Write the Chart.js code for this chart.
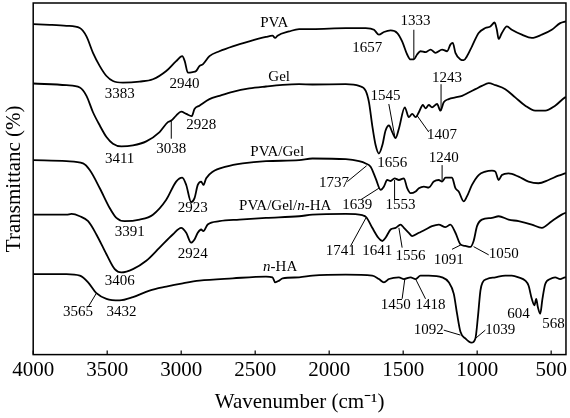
<!DOCTYPE html>
<html>
<head>
<meta charset="utf-8">
<script src="https://cdn.jsdelivr.net/npm/chart.js@4.4.0/dist/chart.umd.min.js"></script>
<style>
  html, body { margin: 0; padding: 0; background: #fff; }
</style>
</head>
<body>
<canvas id="ftir" width="570" height="418"></canvas>
<script>
// wavenumber ticks on the bottom axis
const xTicks = [4000, 3500, 3000, 2500, 2000, 1500, 1000, 500];

// spectra, stacked with an offset (arbitrary transmittance units)
const pvaWn = [4000, 3888, 3775, 3685, 3640, 3596, 3550, 3505, 3461, 3394, 3281, 3191, 3101, 3034, 2993, 2976, 2955, 2922, 2899, 2877, 2854, 2809, 2742, 2652, 2540, 2427, 2383, 2365, 2349, 2270, 2203, 2113, 1888, 1753, 1697, 1664, 1630, 1585, 1540, 1507, 1473, 1450, 1428, 1406, 1383, 1349, 1315, 1282, 1237, 1203, 1181, 1165, 1147, 1113, 1091, 1069, 1035, 990, 945, 911, 882, 867, 855, 833, 799, 766, 698, 631, 563, 496, 439, 406, 400];
const pvaT = [333.7, 333, 332, 329.7, 321.3, 304.7, 291.3, 281.3, 276.3, 274.7, 275.7, 278, 286.3, 296.3, 301.3, 296.3, 284.7, 285.3, 286.3, 291.3, 293, 301.3, 306.3, 311.3, 316.3, 320.7, 322, 319.7, 322, 326.3, 328.7, 328.7, 329.7, 329.7, 328, 323, 325.7, 327.3, 324.7, 316.3, 303, 298, 298, 303, 306.3, 305.3, 308, 304.7, 308, 306.3, 313, 314.7, 304.7, 298, 297.3, 301.3, 311.3, 324.7, 329.7, 331.3, 335.3, 328, 318.7, 324.7, 331.3, 328, 323, 319.7, 323, 328, 334.7, 336.3, 336.5];

const gelWn = [4000, 3775, 3685, 3640, 3596, 3550, 3505, 3461, 3404, 3326, 3236, 3146, 3090, 3067, 3034, 3000, 2966, 2929, 2910, 2877, 2809, 2742, 2652, 2540, 2427, 2315, 2203, 2113, 1888, 1798, 1753, 1731, 1709, 1686, 1664, 1641, 1619, 1596, 1574, 1551, 1529, 1489, 1462, 1439, 1416, 1394, 1367, 1349, 1327, 1305, 1271, 1248, 1226, 1192, 1147, 1102, 1057, 1012, 968, 922, 877, 810, 743, 675, 608, 540, 473, 406, 400];
const gelT = [273.7, 272, 269.7, 261.3, 244.7, 231.3, 219.7, 213, 210.3, 211.3, 215.3, 224.7, 234.7, 236.3, 241.3, 245.3, 243, 240.7, 248, 251.3, 258, 261.3, 265.3, 268.7, 270.7, 272.3, 273, 272.7, 273, 271.3, 266.3, 254.7, 231.3, 211.3, 203, 211.3, 226.3, 231.3, 224.7, 218.7, 228, 249.7, 239.7, 243, 239.7, 244.7, 252, 248.7, 252, 249.7, 253, 246.3, 254.7, 258, 259.7, 261.3, 264.7, 268, 271.3, 274, 272, 268, 259.7, 251.3, 246.3, 246.3, 251.3, 259.7, 260];

const pvaGelWn = [4000, 3775, 3663, 3618, 3550, 3483, 3438, 3382, 3281, 3191, 3101, 3034, 2993, 2966, 2933, 2910, 2888, 2865, 2850, 2831, 2787, 2697, 2585, 2427, 2203, 2113, 1888, 1798, 1753, 1720, 1686, 1652, 1630, 1608, 1585, 1558, 1529, 1495, 1473, 1450, 1416, 1394, 1360, 1327, 1293, 1260, 1237, 1214, 1170, 1147, 1125, 1091, 1069, 1035, 990, 945, 900, 877, 855, 833, 788, 720, 653, 586, 518, 451, 406, 400];
const pvaGelT = [196.3, 195.3, 193, 186.3, 168, 148, 138, 134.7, 136.3, 141.3, 156.3, 174.7, 178.7, 171.3, 154, 158, 171.3, 174.7, 171.3, 178, 184.7, 189.7, 193, 195.3, 196.3, 198, 197.3, 195.3, 193, 189.7, 178, 166.3, 169.7, 176.3, 175.3, 178, 176.3, 178, 168, 163, 164.7, 168, 169.7, 168.7, 174.7, 176.3, 174.7, 178.7, 178.7, 168, 164.7, 154.7, 159.7, 171.3, 181.3, 184.7, 185.7, 184.7, 176.3, 181.3, 183, 179.7, 174.7, 173, 176.3, 180.7, 183, 183.3];

const compositeWn = [4000, 3775, 3741, 3685, 3629, 3573, 3505, 3449, 3404, 3326, 3236, 3146, 3057, 3000, 2966, 2933, 2910, 2888, 2865, 2850, 2821, 2742, 2607, 2427, 2203, 2113, 1888, 1776, 1749, 1709, 1668, 1641, 1619, 1585, 1551, 1518, 1495, 1462, 1439, 1394, 1349, 1305, 1260, 1214, 1181, 1147, 1113, 1080, 1046, 1024, 1001, 968, 900, 855, 788, 720, 631, 563, 496, 429, 406, 400];
const compositeT = [141.3, 141.3, 142, 139.7, 134.7, 121.3, 101.3, 86.3, 83, 86.3, 94.7, 108, 121.3, 128, 123, 113, 116.3, 123, 126.3, 124.7, 131.3, 134.7, 136.3, 138, 139.7, 141.3, 142, 140.7, 138.7, 128, 118, 114.7, 118, 126.3, 128, 131.3, 128, 123, 119.7, 123, 126.3, 129.7, 131.3, 128.7, 131.3, 123, 111.3, 109.7, 108.7, 114.7, 129.7, 136.3, 138, 139.7, 136.3, 134.7, 131.3, 128, 134.7, 141.3, 143, 143.3];

const haWn = [4000, 3775, 3685, 3629, 3573, 3505, 3416, 3326, 3214, 3101, 2989, 2877, 2652, 2427, 2383, 2365, 2338, 2315, 2203, 2113, 1888, 1709, 1664, 1630, 1596, 1529, 1495, 1450, 1416, 1383, 1327, 1237, 1192, 1158, 1136, 1113, 1080, 1039, 1012, 995, 978, 963, 934, 877, 810, 766, 720, 675, 653, 631, 613, 601, 590, 574, 559, 540, 507, 473, 439, 406, 400];
const haT = [81.3, 81.3, 79.7, 73, 62, 56.3, 54.7, 58, 64.7, 68.7, 72, 74.7, 77, 78.7, 78, 73, 74.7, 77, 78, 79.7, 80.7, 79.7, 76.3, 73, 76.3, 78, 76.3, 78, 76.3, 79.7, 79.7, 78, 73, 61.3, 41.3, 23, 16.3, 12, 16.3, 38, 64.7, 73, 76.3, 78, 79.7, 79.7, 78, 74.7, 69.7, 56.3, 49.7, 56.3, 48, 41.3, 56.3, 71.3, 76.3, 78, 76.3, 78, 78];

// sample names and peak assignments; _n_ is set in italics
const notes = [
  { text: 'PVA', at: [2371, 335] },
  { text: 'Gel', at: [2338, 280] },
  { text: 'PVA/Gel', at: [2351, 205] },
  { text: 'PVA/Gel/_n_-HA', at: [2297, 150] },
  { text: '_n_-HA', at: [2331, 88] },

  { text: '3383', at: [3416, 263] },
  { text: '2940', at: [2978, 273] },
  { text: '1657', at: [1743, 309.7] },
  { text: '1333', at: [1416, 336.3], line: [[1428, 328], [1428, 298]] },

  { text: '3411', at: [3416, 197] },
  { text: '3038', at: [3067, 208], line: [[3067, 236.3], [3067, 218]] },
  { text: '2928', at: [2865, 231.3] },
  { text: '1545', at: [1619, 261.3], line: [[1597, 253], [1556, 219.7]] },
  { text: '1243', at: [1204, 279.7], line: [[1244, 273], [1244, 246.3]] },
  { text: '1407', at: [1237, 221.3], line: [[1406, 241.3], [1327, 224.7]] },

  { text: '3391', at: [3348, 123.7] },
  { text: '2923', at: [2922, 148] },
  { text: '1656', at: [1574, 193] },
  { text: '1240', at: [1226, 198], line: [[1237, 191.3], [1237, 174.7]] },
  { text: '1737', at: [1967, 173], line: [[1877, 174.7], [1747, 190.7]] },
  { text: '1639', at: [1810, 151.3], line: [[1787, 156.3], [1664, 168]] },
  { text: '1553', at: [1518, 151.3], line: [[1558, 176.3], [1558, 156.3]] },

  { text: '2924', at: [2922, 102] },
  { text: '3406', at: [3416, 74] },
  { text: '1741', at: [1922, 104.7], line: [[1855, 109.7], [1749, 138.7]] },
  { text: '1641', at: [1675, 104.7] },
  { text: '1556', at: [1450, 99.7], line: [[1529, 128], [1507, 108]] },
  { text: '1091', at: [1192, 95.3], line: [[1170, 106.3], [1111, 110.7]] },
  { text: '1050', at: [821, 102], line: [[1024, 109], [922, 100.7]] },

  { text: '3565', at: [3697, 43], line: [[3629, 48], [3573, 62]] },
  { text: '3432', at: [3404, 43] },
  { text: '1450', at: [1551, 49.7], line: [[1489, 76.3], [1507, 56.3]] },
  { text: '1418', at: [1315, 49.7], line: [[1416, 76.3], [1349, 56.3]] },
  { text: '1092', at: [1327, 24.7], line: [[1226, 24.7], [1113, 19.7]] },
  { text: '1039', at: [844, 24.7], line: [[1012, 16.3], [945, 24.7]] },
  { text: '604', at: [720, 41.3] },
  { text: '568', at: [484, 31.3] }
];

const serif = 'Liberation Serif, Times New Roman, serif';

function toPoints(wn, t) {
  return wn.map((w, i) => ({ x: w, y: t[i] }));
}

// label text with italic runs between underscores, centred on (cx, cy)
function drawRich(ctx, text, cx, cy) {
  const parts = text.split('_');
  const fonts = parts.map((p, i) => (i % 2 ? 'italic ' : '') + '15px ' + serif);
  const widths = parts.map((p, i) => { ctx.font = fonts[i]; return ctx.measureText(p).width; });
  let x = cx - widths.reduce((a, b) => a + b, 0) / 2;
  parts.forEach((p, i) => {
    ctx.font = fonts[i];
    ctx.fillText(p, x, cy);
    x += widths[i];
  });
}

const decor = {
  id: 'decor',
  afterDatasetsDraw(chart) {
    const { ctx, chartArea: a, scales: { x, y } } = chart;
    ctx.save();
    ctx.strokeStyle = '#000';
    ctx.lineWidth = 1.5;
    ctx.strokeRect(a.left, a.top, a.right - a.left, a.bottom - a.top);

    // short ticks pointing into the plot
    ctx.lineWidth = 1.2;
    xTicks.forEach(v => {
      const px = x.getPixelForValue(v);
      ctx.beginPath();
      ctx.moveTo(px, a.bottom);
      ctx.lineTo(px, a.bottom - 4);
      ctx.stroke();
    });

    ctx.lineWidth = 1;
    notes.forEach(n => {
      if (!n.line) return;
      ctx.beginPath();
      ctx.moveTo(x.getPixelForValue(n.line[0][0]), y.getPixelForValue(n.line[0][1]));
      ctx.lineTo(x.getPixelForValue(n.line[1][0]), y.getPixelForValue(n.line[1][1]));
      ctx.stroke();
    });

    ctx.fillStyle = '#000';
    ctx.textBaseline = 'middle';
    ctx.textAlign = 'left';
    notes.forEach(n => drawRich(ctx, n.text, x.getPixelForValue(n.at[0]), y.getPixelForValue(n.at[1])));
    ctx.restore();
  }
};

const series = [
  ['PVA', pvaWn, pvaT],
  ['Gel', gelWn, gelT],
  ['PVA/Gel', pvaGelWn, pvaGelT],
  ['PVA/Gel/n-HA', compositeWn, compositeT],
  ['n-HA', haWn, haT]
];

new Chart(document.getElementById('ftir'), {
  type: 'line',
  data: {
    datasets: series.map(([label, wn, t]) => ({
      label: label,
      data: toPoints(wn, t),
      borderColor: '#000',
      borderWidth: 1.8,
      pointRadius: 0,
      fill: false,
      cubicInterpolationMode: 'monotone'
    }))
  },
  options: {
    responsive: false,
    animation: false,
    devicePixelRatio: 1,
    layout: { autoPadding: false, padding: { top: 3, right: 3, left: 0, bottom: 0 } },
    plugins: {
      legend: { display: false },
      tooltip: { enabled: false }
    },
    scales: {
      x: {
        type: 'linear',
        reverse: true,
        min: 400,
        max: 4000,
        afterBuildTicks: scale => { scale.ticks = xTicks.map(v => ({ value: v })); },
        ticks: {
          autoSkip: false,
          maxRotation: 0,
          padding: 3,
          color: '#000',
          font: { family: serif, size: 21 },
          callback: v => String(v)
        },
        grid: { display: false, drawTicks: false },
        border: { display: false },
        title: {
          display: true,
          text: 'Wavenumber (cm\u207B\u00B9)',
          color: '#000',
          font: { family: serif, size: 21 },
          padding: { top: 4, bottom: 3 }
        }
      },
      y: {
        min: 0,
        max: 355,
        ticks: { display: false },
        grid: { display: false, drawTicks: false },
        border: { display: false },
        title: {
          display: true,
          text: 'Transmittanc (%)',
          color: '#000',
          font: { family: serif, size: 21 },
          padding: { top: 2, bottom: 6 }
        }
      }
    }
  },
  plugins: [decor]
});
</script>
</body>
</html>
